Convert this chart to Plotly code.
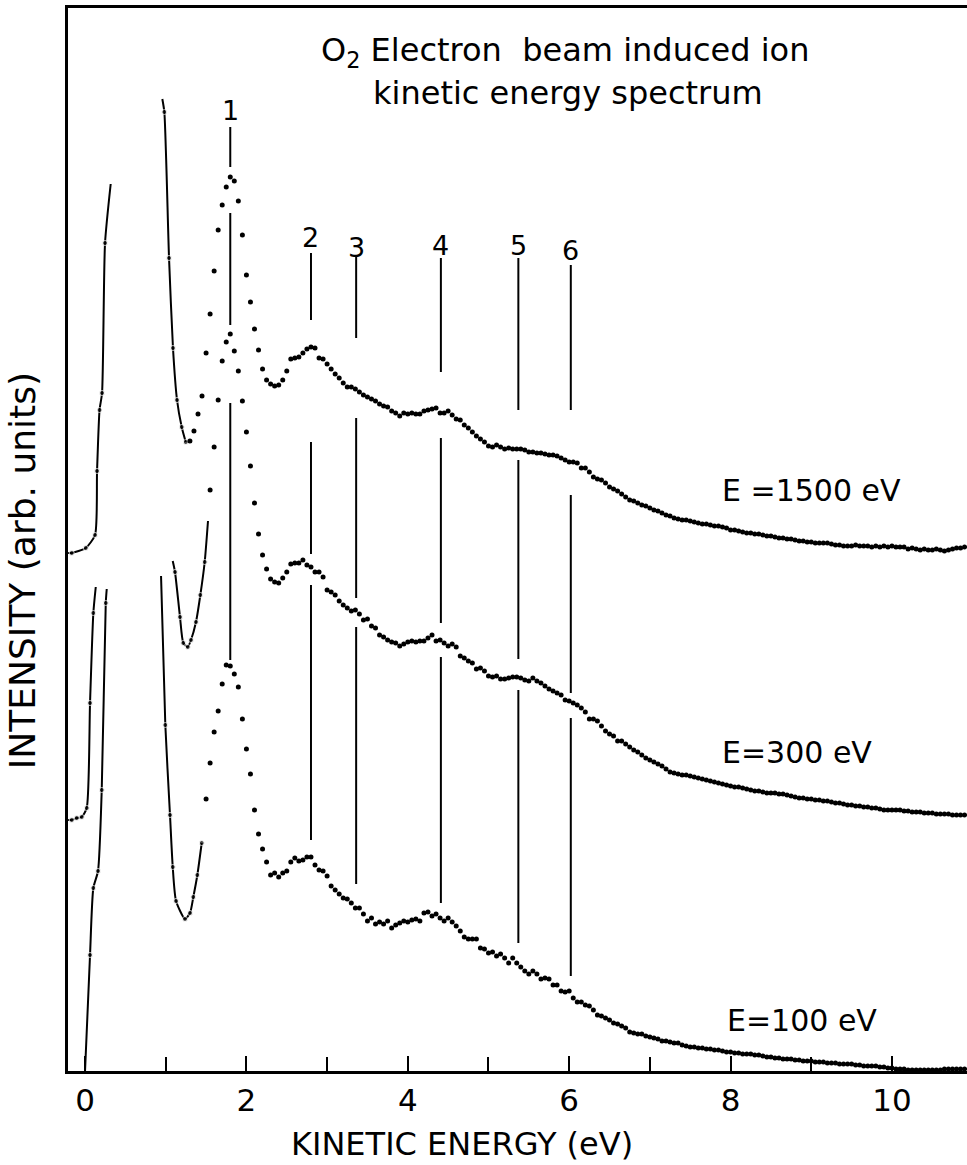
import numpy as np
import plotly.graph_objects as go

# ---------------- data ----------------
E_START = 1.30          # eV, first sampled point of the dotted spectra
E_STEP = 0.05           # eV, sampling step
N_GRID = 193
energy_grid = np.round(E_START + E_STEP * np.arange(N_GRID), 2)

# E = 1500 eV spectrum (dotted part), starts at grid index 0
top_start = 0
top_I = [630, 640, 657, 675, 718, 757, 800, 841, 866, 884,
         894, 890, 870, 836, 796, 769, 742, 721, 702, 691,
         687, 685, 686, 691, 700, 712, 713, 714, 718, 722,
         724, 723, 713, 712, 707, 702, 697, 693, 688, 684,
         684, 682, 679, 676, 674, 672, 670, 667, 665, 664,
         660, 658, 655, 658, 657, 658, 657, 657, 660, 661,
         662, 663, 658, 658, 660, 656, 652, 651, 646, 643,
         639, 635, 632, 629, 625, 624, 626, 624, 622, 623,
         622, 622, 622, 621, 619, 619, 618, 618, 617, 616,
         616, 615, 613, 611, 609, 609, 608, 603, 603, 599,
         594, 592, 591, 588, 584, 582, 580, 577, 574, 571,
         570, 568, 566, 565, 563, 561, 560, 558, 556, 555,
         553, 552, 551, 551, 550, 549, 548, 547, 547, 546,
         545, 545, 544, 543, 541, 541, 540, 539, 538, 538,
         537, 537, 536, 535, 535, 534, 533, 533, 532, 532,
         531, 530, 530, 529, 529, 528, 528, 528, 528, 527,
         526, 526, 525, 525, 525, 526, 525, 525, 525, 524,
         525, 524, 525, 524, 525, 524, 524, 524, 522, 523,
         522, 521, 522, 521, 521, 522, 521, 520, 521, 522,
         523, 523, 524]

# E = 300 eV spectrum (dotted part), starts at grid index 5
mid_start = 5
mid_I = [581, 624, 671, 710, 729,
         737, 720, 700, 670, 639, 605, 568, 537, 516, 502,
         492, 489, 488, 493, 499, 507, 508, 508, 511, 506,
         504, 499, 499, 494, 481, 479, 476, 470, 466, 463,
         460, 461, 457, 451, 452, 445, 443, 436, 434, 431,
         429, 428, 425, 427, 429, 430, 429, 430, 430, 433,
         436, 430, 431, 428, 425, 427, 424, 415, 413, 410,
         408, 402, 403, 400, 395, 394, 395, 392, 392, 393,
         394, 394, 393, 391, 390, 393, 390, 388, 385, 382,
         380, 378, 376, 371, 370, 368, 366, 363, 359, 352,
         352, 350, 345, 340, 337, 335, 330, 330, 327, 324,
         321, 319, 316, 313, 311, 309, 307, 305, 302, 299,
         298, 297, 296, 296, 295, 294, 293, 292, 291, 290,
         289, 288, 287, 286, 285, 284, 284, 283, 282, 281,
         280, 280, 279, 278, 278, 278, 277, 277, 276, 275,
         274, 273, 273, 272, 272, 271, 271, 270, 270, 269,
         268, 268, 267, 266, 266, 265, 265, 264, 264, 263,
         263, 262, 261, 261, 261, 261, 261, 260, 260, 259,
         259, 259, 258, 258, 258, 257, 257, 257, 257, 256,
         256, 256, 256]

# E = 100 eV spectrum (dotted part), starts at grid index 4
bot_start = 4
bot_I = [272, 308, 339, 360, 387, 406,
         405, 397, 384, 352, 322, 297, 261, 237, 222, 209,
         196, 198, 194, 198, 200, 209, 213, 210, 211, 214,
         214, 206, 201, 200, 195, 185, 181, 177, 173, 172,
         168, 163, 163, 157, 150, 153, 147, 149, 147, 150,
         143, 146, 148, 150, 149, 151, 152, 150, 158, 159,
         155, 157, 153, 150, 153, 149, 145, 140, 134, 132,
         132, 132, 123, 122, 118, 119, 115, 117, 113, 108,
         113, 108, 104, 100, 97, 100, 97, 92, 93, 92,
         86, 86, 80, 79, 80, 73, 69, 69, 66, 65,
         61, 56, 55, 53, 51, 48, 47, 45, 43, 39,
         38, 37, 37, 35, 34, 33, 32, 30, 30, 29,
         28, 28, 26, 25, 24, 24, 23, 23, 22, 22,
         21, 21, 20, 19, 19, 18, 18, 17, 17, 17,
         16, 16, 15, 14, 14, 13, 13, 12, 12, 12,
         11, 11, 10, 10, 10, 9, 9, 9, 8, 8,
         8, 7, 7, 7, 7, 6, 6, 5, 5, 5,
         5, 4, 4, 3, 3, 2, 2, 2, 1, 1,
         1, 1, 1, 1, 1, 1, 1, 2, 2, 2,
         2, 2, 2]

# low-energy parts drawn as solid curves through the measured points
top_rise_E = [-0.21, -0.165, 0.009, 0.124, 0.149, 0.180, 0.211, 0.248, 0.318]
top_rise_I = [518, 518, 523, 536, 600, 661, 678, 828, 887]
top_fall_E = [0.958, 0.983, 1.041, 1.090, 1.140, 1.198, 1.248]
top_fall_I = [972, 959, 813, 723, 671, 644, 629]

mid_rise_E = [-0.21, -0.165, -0.103, -0.041, 0.021, 0.062, 0.103, 0.133]
mid_rise_I = [251, 251, 253, 254, 263, 368, 458, 484]
mid_dip_E = [1.087, 1.115, 1.177, 1.218, 1.273, 1.313, 1.375, 1.429, 1.483, 1.524]
mid_dip_I = [510, 499, 454, 428, 424, 431, 449, 476, 509, 550]

bot_rise_E = [0.000, 0.062, 0.103, 0.161, 0.207, 0.257, 0.269]
bot_rise_I = [0, 116, 183, 200, 281, 468, 482]
bot_dip_E = [0.942, 0.995, 1.053, 1.087, 1.128, 1.239, 1.301, 1.342, 1.392, 1.446]
bot_dip_I = [495, 346, 256, 204, 170, 152, 158, 174, 196, 228]

# peak markers 1..6 : energy and the three drawn segments (top, bottom)
peak_labels = ["1", "2", "3", "4", "5", "6"]
peak_E = [1.80, 2.80, 3.36, 4.41, 5.37, 6.02]
peak_label_I = [961, 834, 824, 826, 826, 821]
peak_segments = [
    [(944, 904), (858, 746), (668, 411)],
    [(818, 751), (629, 517), (486, 231)],
    [(814, 733), (653, 473), (444, 187)],
    [(813, 699), (633, 448), (414, 168)],
    [(813, 661), (611, 412), (381, 128)],
    [(806, 661), (576, 378), (353, 95)],
]

energy_labels = ["E =1500 eV", "E=300 eV", "E=100 eV"]
energy_label_pos = [(7.87, 581), (7.87, 319), (7.93, 51)]

major_ticks = [0, 2, 4, 6, 8, 10]
minor_ticks = [1, 3, 5, 7, 9]

# ---------------- figure ----------------
FONT = "DejaVu Sans"
fig = go.Figure()

dot = dict(color="black", size=5)


def add_dots(start, values):
    fig.add_trace(go.Scatter(
        x=energy_grid[start:start + len(values)], y=values, mode="markers",
        marker=dot, cliponaxis=False, showlegend=False, hoverinfo="x+y"))


def add_curve(xs, ys, end_markers=(False, False)):
    sizes = [5] * len(xs)
    if not end_markers[0]:
        sizes[0] = 0
    if not end_markers[1]:
        sizes[-1] = 0
    fig.add_trace(go.Scatter(
        x=xs, y=ys, mode="lines+markers",
        line=dict(color="black", width=2, shape="spline", smoothing=0.6),
        marker=dict(color="black", size=sizes),
        cliponaxis=False, showlegend=False))


add_curve(top_rise_E, top_rise_I)
add_curve(top_fall_E, top_fall_I, (False, True))
add_curve(mid_rise_E, mid_rise_I)
add_curve(mid_dip_E, mid_dip_I)
add_curve(bot_rise_E, bot_rise_I)
add_curve(bot_dip_E, bot_dip_I, (False, True))

add_dots(top_start, top_I)
add_dots(mid_start, mid_I)
add_dots(bot_start, bot_I)

# peak position lines
lx, ly = [], []
for e, segs in zip(peak_E, peak_segments):
    for (a, b) in segs:
        lx += [e, e, None]
        ly += [a, b, None]
fig.add_trace(go.Scatter(x=lx, y=ly, mode="lines",
                         line=dict(color="black", width=2),
                         showlegend=False, hoverinfo="skip"))

for lab, e, yi in zip(peak_labels, peak_E, peak_label_I):
    fig.add_annotation(x=e, y=yi, text=lab, showarrow=False,
                       font=dict(family=FONT, size=27, color="black"))

for lab, (ex, ey) in zip(energy_labels, energy_label_pos):
    fig.add_annotation(x=ex, y=ey, text=lab, showarrow=False,
                       xanchor="left", yanchor="middle",
                       font=dict(family=FONT, size=30, color="black"))

fig.add_annotation(x=5.95, y=1019, text="O<sub>2</sub> Electron  beam induced ion",
                   showarrow=False, xanchor="center", yanchor="middle",
                   font=dict(family=FONT, size=32, color="black"))
fig.add_annotation(x=5.98, y=978, text="kinetic energy spectrum",
                   showarrow=False, xanchor="center", yanchor="middle",
                   font=dict(family=FONT, size=32, color="black"))

fig.add_annotation(xref="paper", yref="paper", x=-0.0512, y=0.471,
                   text="INTENSITY (arb. units)", textangle=-90, showarrow=False,
                   xanchor="center", yanchor="middle",
                   font=dict(family=FONT, size=36, color="black"))
fig.add_annotation(xref="paper", yref="paper", x=0.438, y=-0.069,
                   text="KINETIC ENERGY (eV)", showarrow=False,
                   xanchor="center", yanchor="middle",
                   font=dict(family=FONT, size=32, color="black"))

fig.update_xaxes(range=[-0.211, 10.93], tickvals=major_ticks,
                 ticktext=[str(v) for v in major_ticks],
                 ticks="inside", ticklen=15, tickwidth=2, tickcolor="black",
                 minor=dict(tickvals=minor_ticks, ticks="inside", ticklen=14,
                            tickwidth=2, tickcolor="black", showgrid=False),
                 showline=True, linewidth=3, linecolor="black", mirror=True,
                 showgrid=False, zeroline=False, ticklabelstandoff=0,
                 tickfont=dict(family=FONT, size=31, color="black"))
fig.update_yaxes(range=[0, 1063], showticklabels=False, ticks="",
                 showline=True, linewidth=3, linecolor="black",
                 showgrid=False, zeroline=False)

fig.update_layout(width=967, height=1165,
                  margin=dict(l=68, r=0, t=8, b=94),
                  paper_bgcolor="white", plot_bgcolor="white",
                  font=dict(family=FONT, color="black"))

fig.write_html("out.html")
